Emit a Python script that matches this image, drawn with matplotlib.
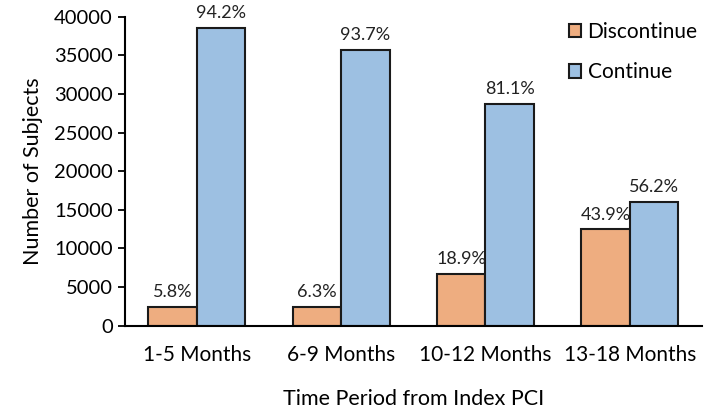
import numpy as np
import matplotlib
matplotlib.use("Agg")
from matplotlib import pyplot as plt

# values
periods = ["1-5 Months", "6-9 Months", "10-12 Months", "13-18 Months"]
discontinue = [2400, 2400, 6700, 12450]
continue_ = [38600, 35700, 28650, 16000]
disc_pct = ["5.8%", "6.3%", "18.9%", "43.9%"]
cont_pct = ["94.2%", "93.7%", "81.1%", "56.2%"]

plt.rcParams['font.family'] = ['Lato', 'DejaVu Sans']

fig = plt.figure(figsize=(7.09, 4.09), dpi=100)
ax = fig.add_axes([0.176, 0.204, 0.814, 0.755])

x = np.arange(len(periods))
w = 0.336
b1 = ax.bar(x - w / 2, discontinue, w, color="#EEAD80", edgecolor="#1a1a1a",
            linewidth=1.5, label="Discontinue")
b2 = ax.bar(x + w / 2, continue_, w, color="#9DC0E2", edgecolor="#1a1a1a",
            linewidth=1.5, label="Continue")

# percentage labels above each bar
for bars, labels in [(b1, disc_pct), (b2, cont_pct)]:
    for bar, lab in zip(bars, labels):
        ax.annotate(lab, (bar.get_x() + bar.get_width() / 2, bar.get_height()),
                    xytext=(0, 5), textcoords="offset points",
                    ha="center", va="bottom", fontsize=13, color="#222222")

ax.set_xlim(-0.5, 3.5)
ax.set_ylim(0, 40000)
ax.set_yticks(range(0, 40001, 5000))
ax.set_xticks(x)
ax.set_xticklabels(periods, fontsize=15)
ax.tick_params(axis="y", labelsize=14.5, length=5, width=1.3, direction="out")
ax.tick_params(axis="x", length=0, pad=14)

ax.spines["top"].set_visible(False)
ax.spines["right"].set_visible(False)
ax.spines["left"].set_linewidth(1.5)
ax.spines["bottom"].set_linewidth(1.5)

ax.set_ylabel("Number of Subjects", fontsize=15.5, labelpad=8)
ax.set_xlabel("Time Period from Index PCI", fontsize=15.5, labelpad=17)

ax.legend(loc="upper right", frameon=False, fontsize=15, handlelength=0.6,
          handleheight=0.6, handletextpad=0.3, labelspacing=1.0,
          bbox_to_anchor=(1.025, 1.045))

fig.savefig("out.png", dpi=100)
